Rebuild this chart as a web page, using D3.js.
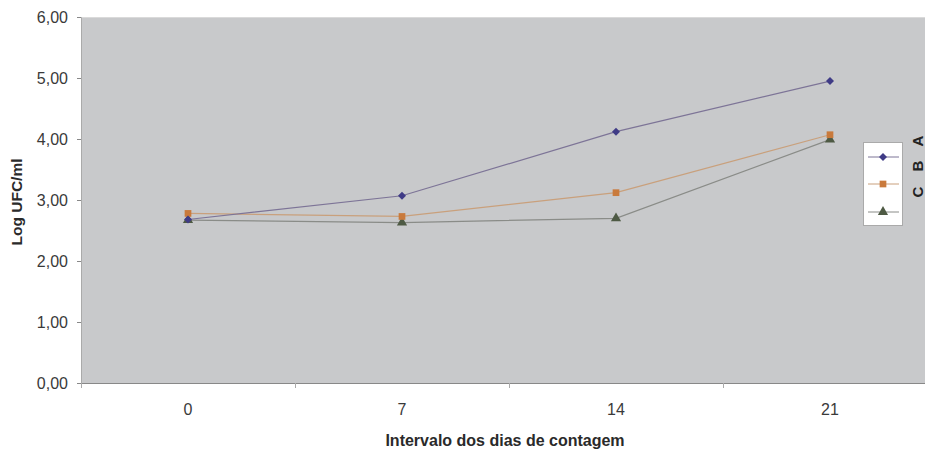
<!DOCTYPE html>
<html><head><meta charset="utf-8">
<script src="https://cdn.jsdelivr.net/npm/d3@7"></script>
<style>
body{margin:0;background:#fff;}
svg{display:block;font-family:"Liberation Sans",Arial,sans-serif;}
</style></head>
<body>
<svg id="c" width="925" height="449"></svg>
<script>
const categories = ["0","7","14","21"];
const seriesA = [2.68, 3.07, 4.12, 4.95];
const seriesB = [2.78, 2.73, 3.12, 4.07];
const seriesC = [2.67, 2.63, 2.70, 3.99];
const seriesNames = ["A","B","C"];
const yTicks = [0,1,2,3,4,5,6];

(function(){
const svg = d3.select("#c");
const W = 925;
const pL = 81, pR = 937, pT = 17, pB = 383;

const x = d3.scaleBand().domain(categories).range([pL, pR]);
const y = d3.scaleLinear().domain([0,6]).range([pB, pT]);

svg.append("rect").attr("x", pL).attr("y", pT)
  .attr("width", pR-pL).attr("height", pB-pT)
  .attr("fill", "#c8c9cb");
svg.append("line").attr("x1", pL).attr("x2", W).attr("y1", pT+0.5).attr("y2", pT+0.5)
  .attr("stroke", "#dadada");

// y axis
const fmt = d => d.toFixed(2).replace(".", ",");
const ya = svg.append("g").attr("transform", `translate(${pL},0)`)
  .call(d3.axisLeft(y).tickValues(yTicks).tickFormat(fmt).tickSize(4).tickPadding(9));
ya.select(".domain").attr("stroke", "#aaa");
ya.selectAll(".tick line").attr("stroke", "#888");
ya.selectAll(".tick text").attr("fill", "#3a3a3a").attr("font-size", 16);

// x axis
const xa = svg.append("g").attr("transform", `translate(0,${pB})`)
  .call(d3.axisBottom(x).tickSize(0).tickPadding(21));
xa.select(".domain").attr("stroke", "#888");
xa.selectAll(".tick text").attr("fill", "#3a3a3a").attr("font-size", 16);
const bounds = categories.map(c => x(c)).concat([x(categories[3]) + x.bandwidth()]);
xa.selectAll(".btick").data(bounds).join("line").attr("class","btick")
  .attr("x1", d => Math.round(d)+0.5).attr("x2", d => Math.round(d)+0.5)
  .attr("y1", 0).attr("y2", 5).attr("stroke", "#aaa");

// titles
svg.append("text").attr("x", 505).attr("y", 446).attr("text-anchor","middle")
  .attr("font-size", 16).attr("font-weight","bold").attr("fill","#2a2a2a")
  .text("Intervalo dos dias de contagem");
svg.append("text").attr("transform","translate(22,202) rotate(-90)").attr("text-anchor","middle")
  .attr("font-size", 15.5).attr("font-weight","bold").attr("fill","#2a2a2a")
  .text("Log UFC/ml");

const cx = c => x(c) + x.bandwidth()/2;
const series = [
  {name:"A", vals:seriesA, line:"#7d7497", fill:"#3f3b86", sym:d3.symbolSquare, size:32, rot:45},
  {name:"B", vals:seriesB, line:"#c9a07c", fill:"#c97a3c", sym:d3.symbolSquare, size:45, rot:0},
  {name:"C", vals:seriesC, line:"#8a8c88", fill:"#4e5a44", sym:d3.symbolTriangle, size:45, rot:0}
];
const lineGen = d3.line().x((d,i) => cx(categories[i])).y(d => y(d));
series.slice().reverse().forEach(s => {
  svg.append("path").datum(s.vals).attr("d", lineGen)
    .attr("fill","none").attr("stroke", s.line).attr("stroke-width", 1.2);
});
series.slice().reverse().forEach(s => {
  svg.append("g").selectAll("path").data(s.vals).join("path")
    .attr("transform", (d,i) => `translate(${cx(categories[i])},${y(d)}) rotate(${s.rot})`)
    .attr("d", d3.symbol().type(s.sym).size(s.size))
    .attr("fill", s.fill);
});

// legend
const lg = svg.append("g");
lg.append("rect").attr("x", 863.5).attr("y", 142.5).attr("width", 39).attr("height", 83)
  .attr("fill", "#fff").attr("stroke", "#aaa");
const legY = [157, 184, 212];
series.forEach((s, i) => {
  lg.append("line").attr("x1", 868).attr("x2", 899).attr("y1", legY[i]).attr("y2", legY[i])
    .attr("stroke", s.line).attr("stroke-width", 1);
  lg.append("path").attr("transform", `translate(883,${legY[i]}) rotate(${s.rot})`)
    .attr("d", d3.symbol().type(s.sym).size(s.size)).attr("fill", s.fill);
});
const labY = [141, 166, 192];
seriesNames.forEach((n, i) => {
  svg.append("text").attr("transform", `translate(923,${labY[i]}) rotate(-90)`)
    .attr("text-anchor","middle").attr("font-size", 15).attr("font-weight","bold")
    .attr("fill","#222").text(n);
});
})();
</script>
</body></html>
